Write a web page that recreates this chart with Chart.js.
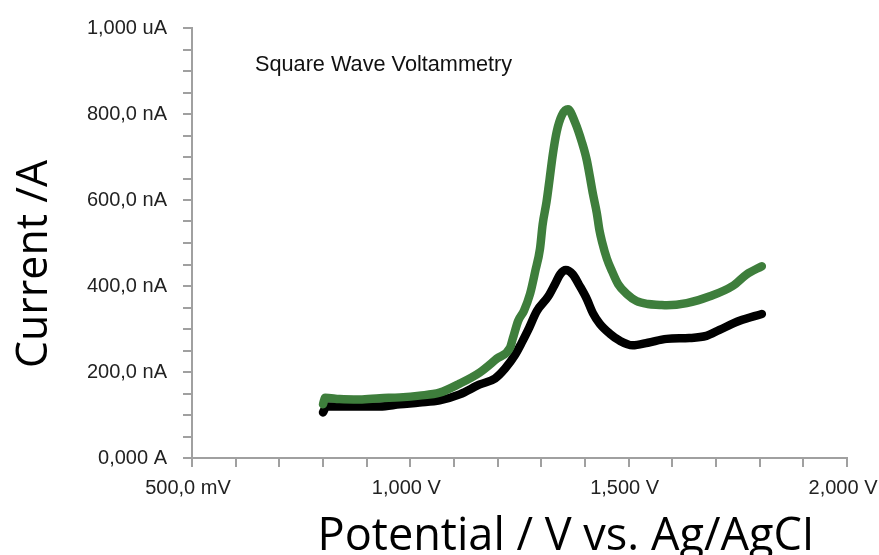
<!DOCTYPE html>
<html lang="en">
<head>
<meta charset="UTF-8">
<title>Square Wave Voltammetry</title>
<style>
    body {
        margin: 0;
        background: #fff;
    }
    #chart {
        display: block;
    }
</style>
<script src="https://cdn.jsdelivr.net/npm/chart.js"></script>
</head>
<body>
<canvas id="chart" width="879" height="555"></canvas>
<script>
    // potentials in V, currents in nA
    const greenPotential = [0.800, 0.805, 0.838, 0.884, 0.930, 0.976, 1.021, 1.067, 1.113, 1.159,
        1.198, 1.228, 1.235, 1.247, 1.260, 1.274, 1.286, 1.297, 1.303, 1.312,
        1.319, 1.326, 1.335, 1.347, 1.361, 1.377, 1.393, 1.404, 1.411, 1.418,
        1.427, 1.433, 1.439, 1.450, 1.462, 1.476, 1.496, 1.518, 1.544, 1.571,
        1.587, 1.633, 1.686, 1.738, 1.770, 1.805];
    const greenCurrent = [125, 140, 137, 136, 139, 141, 145, 152, 173, 199,
        231, 256, 279, 319, 342, 381, 434, 487, 543, 596,
        649, 704, 758, 797, 811, 781, 734, 693, 655, 615,
        570, 530, 503, 464, 434, 404, 381, 365, 358, 356,
        355, 360, 376, 400, 427, 446];

    const blackPotential = [0.800, 0.808, 0.838, 0.884, 0.930, 0.976, 1.021, 1.067, 1.113, 1.159,
        1.194, 1.217, 1.240, 1.254, 1.269, 1.290, 1.316, 1.332, 1.343, 1.356,
        1.372, 1.388, 1.404, 1.418, 1.434, 1.457, 1.479, 1.509, 1.544, 1.587,
        1.639, 1.678, 1.708, 1.754, 1.805];
    const blackCurrent = [106, 120, 120, 120, 120, 125, 129, 134, 148, 171,
        185, 208, 240, 266, 296, 342, 376, 406, 427, 437,
        427, 400, 370, 337, 312, 289, 273, 262, 268, 277,
        279, 284, 298, 319, 335];

    const xTickValues = [0.5, 1.0, 1.5, 2.0];
    const xTickLabels = ['500,0 mV', '1,000 V', '1,500 V', '2,000 V'];
    const yTickValues = [0, 200, 400, 600, 800, 1000];
    const yTickLabels = ['0,000 A', '200,0 nA', '400,0 nA', '600,0 nA', '800,0 nA', '1,000 uA'];

    const chartTitle = 'Square Wave Voltammetry';
    const xTitle = 'Potential / V vs. Ag/AgCI';
    const yTitle = 'Current /A';

    const toPoints = (xs, ys) => xs.map((x, i) => ({x: x, y: ys[i]}));

    function pickLabel(values, labels, v) {
        const i = values.findIndex(t => Math.abs(t - v) < 1e-6);
        return i >= 0 ? labels[i] : '';
    }

    // scale the font so the text takes the same width as in the picture
    function fitFont(ctx, text, width, family) {
        ctx.font = '100px ' + family;
        const size = 100 * width / ctx.measureText(text).width;
        ctx.font = size.toFixed(1) + 'px ' + family;
    }

    const textPlugin = {
        id: 'textPlugin',
        afterDraw(chart) {
            const ctx = chart.ctx;
            const a = chart.chartArea;
            ctx.save();
            ctx.fillStyle = '#111';
            ctx.textAlign = 'left';
            ctx.textBaseline = 'middle';
            fitFont(ctx, chartTitle, 257, '"Liberation Sans", Arial, sans-serif');
            ctx.fillText(chartTitle, a.left + 63, 65);

            ctx.fillStyle = '#000';
            ctx.textAlign = 'center';
            ctx.textBaseline = 'alphabetic';
            fitFont(ctx, xTitle, 497, '"Open Sans", sans-serif');
            ctx.fillText(xTitle, 566, 550);

            ctx.translate(47, 264);
            ctx.rotate(-Math.PI / 2);
            fitFont(ctx, yTitle, 208, '"Open Sans", sans-serif');
            ctx.fillText(yTitle, 0, 0);
            ctx.restore();
        }
    };

    const tickFont = {family: '"Liberation Sans", Arial, sans-serif', size: 20};
    const axisGrey = '#a0a0a0';

    function lineSet(points, colour) {
        return {
            data: points,
            showLine: true,
            borderColor: colour,
            backgroundColor: colour,
            borderWidth: 8.5,
            pointRadius: 0,
            cubicInterpolationMode: 'monotone',
            borderCapStyle: 'round',
            borderJoinStyle: 'round'
        };
    }

    new Chart(document.getElementById('chart'), {
        type: 'scatter',
        data: {
            datasets: [
                lineSet(toPoints(greenPotential, greenCurrent), '#3e7e3c'),
                lineSet(toPoints(blackPotential, blackCurrent), '#000')
            ]
        },
        options: {
            responsive: false,
            animation: false,
            devicePixelRatio: 1,
            layout: {
                padding: {top: 25, right: 32, bottom: 0, left: 0}
            },
            plugins: {
                legend: {display: false},
                tooltip: {enabled: false}
            },
            scales: {
                x: {
                    type: 'linear',
                    min: 0.5,
                    max: 2.0,
                    ticks: {
                        stepSize: 0.1,
                        autoSkip: false,
                        maxRotation: 0,
                        minRotation: 0,
                        padding: 9,
                        labelOffset: -4,
                        color: '#222',
                        font: tickFont,
                        callback: v => pickLabel(xTickValues, xTickLabels, v)
                    },
                    grid: {
                        drawOnChartArea: false,
                        tickLength: 9,
                        color: axisGrey,
                        lineWidth: 2
                    },
                    border: {color: axisGrey, width: 2},
                    afterFit(scale) {
                        scale.height = 97;
                        scale.paddingLeft = 0;
                        scale.paddingRight = 0;
                    }
                },
                y: {
                    min: 0,
                    max: 1000,
                    ticks: {
                        stepSize: 50,
                        autoSkip: false,
                        padding: 16,
                        color: '#222',
                        font: tickFont,
                        callback: v => pickLabel(yTickValues, yTickLabels, v)
                    },
                    grid: {
                        drawOnChartArea: false,
                        tickLength: 9,
                        color: axisGrey,
                        lineWidth: 2
                    },
                    border: {color: axisGrey, width: 2},
                    afterFit(scale) {
                        scale.width = 192;
                    }
                }
            }
        },
        plugins: [textPlugin]
    });
</script>
</body>
</html>
